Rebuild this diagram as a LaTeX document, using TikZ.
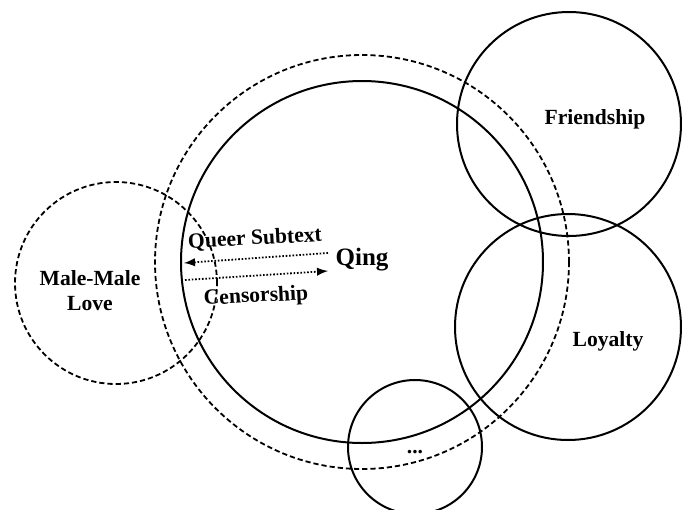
\documentclass[tikz,border=0pt]{standalone}
\usepackage{fontspec}
\setmainfont{Liberation Serif}
\usetikzlibrary{arrows}
\usetikzlibrary{calc}

\begin{document}
\begin{tikzpicture}[x=0.5pt,y=-0.5pt]
                \useasboundingbox (0,0) rectangle (682,510);
                \begin{scope}[>=latex,
                ring/.style={circle,draw,line width=1pt,inner sep=0pt},
                dash ring/.style={ring,line width=0.9pt,dash pattern=on 2.6pt off 1.5pt},
                main text/.style={font=\bfseries\fontsize{10.8}{12.5}\selectfont,align=center,inner sep=1pt},
                flow/.style={->,line width=0.9pt,dash pattern=on 0.8pt off 0.9pt,shorten >=0pt}]
                % circles
                \node[dash ring,minimum size=207pt] (outer) at (362,262) {};
                \node[ring,minimum size=181pt] (qing circle) at (362,262) {};
                \node[dash ring,minimum size=101pt] (male) at (116,283) {};
                \node[ring,minimum size=112pt] (friend) at (569,124) {};
                \node[ring,minimum size=113pt] (loyal) at (568,327) {};
                \node[ring,minimum size=67pt] (other) at (415,447) {};
                % labels
                \node[main text] (male text) at (90,291) {Male-Male\\Love};
                \node[main text] (friend text) at (595,119) {Friendship};
                \node[main text] (loyal text) at (608,341) {Loyalty};
                \node[main text] (other text) at (415,452) {...};
                \node[main text,font=\bfseries\fontsize{12.5}{14}\selectfont] (qing) at (362,260) {Qing};
                \node[main text,rotate=3] (subtext) at (255,239) {Queer Subtext};
                \node[main text,rotate=3] (censor) at (256,297) {Censorship};
                % arrows
                \coordinate (sub start) at (328,253);
                \coordinate (sub end) at (184,263);
                \coordinate (cen start) at (185,280);
                \coordinate (cen end) at (328,271);
                \draw[flow] (sub start) -- (sub end);
                \draw[flow] (cen start) -- (cen end);
                \end{scope}
            \end{tikzpicture}
\end{document}
